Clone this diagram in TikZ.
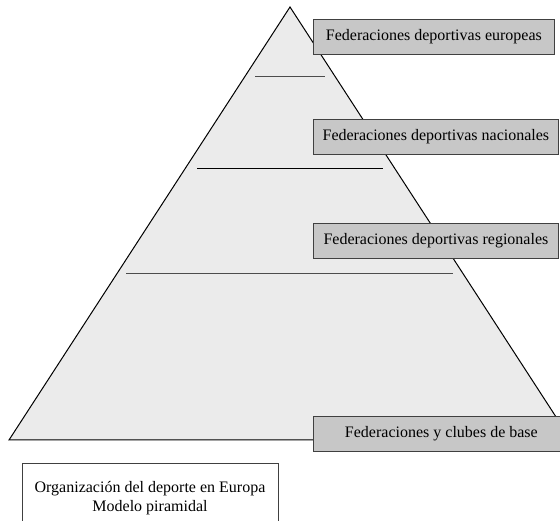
\documentclass[tikz,border=0pt]{standalone}
\usepackage{fontspec}
\setmainfont{Liberation Serif}
\tikzset{%
  % Estilos de los niveles y del pie
       nivel/.style = {rectangle, draw=black!75, fill=black!22, line width=0.8pt,
                       anchor=north west, inner sep=0pt, minimum height=35pt,
                       text centered, font=\fontsize{16}{18}\selectfont},
    piramide/.style = {draw=black, fill=black!8, line width=1pt, line join=miter},
     divisor/.style = {draw=black!70, line width=1pt},
        marco/.style = {rectangle, draw=black!75, line width=0.8pt, anchor=north west,
                       inner sep=0pt, minimum width=256pt, minimum height=80pt},
         pie/.style = {align=center, font=\fontsize{16}{18.5}\selectfont},
}

\begin{document}
\begin{tikzpicture}[x=1pt, y=1pt]
  \useasboundingbox (0,0) rectangle (560,520);
  \clip (0,0) rectangle (560,520);
  % Piramide
  \coordinate (cima) at (290,513);
  \coordinate (izq) at (9,80);
  \coordinate (der) at (571,80);
  \draw[piramide] (cima) -- (izq) -- (der) -- cycle;

  % Separaciones entre niveles
  \draw[divisor] (255,443) -- (325,443);
  \draw[divisor, draw=black] (197,351) -- (383,351);
  \draw[divisor] (126,246) -- (453,246);

  % Niveles
  \node (europeas) [nivel, minimum width=241pt] at (313,501) {Federaciones deportivas europeas};
  \node (nacionales) [nivel, minimum width=245pt] at (313,401) {Federaciones deportivas nacionales};
  \node (regionales) [nivel, minimum width=245pt] at (313,297) {Federaciones deportivas regionales};
  \node (base) [nivel, minimum width=256pt] at (313,104) {Federaciones y clubes de base};

  % Pie
  \node (marcoPie) [marco] at (22,57) {};
  \node (textoPie) [pie] at (150,22) {Organización del deporte en Europa\\Modelo piramidal};
\end{tikzpicture}
\end{document}
